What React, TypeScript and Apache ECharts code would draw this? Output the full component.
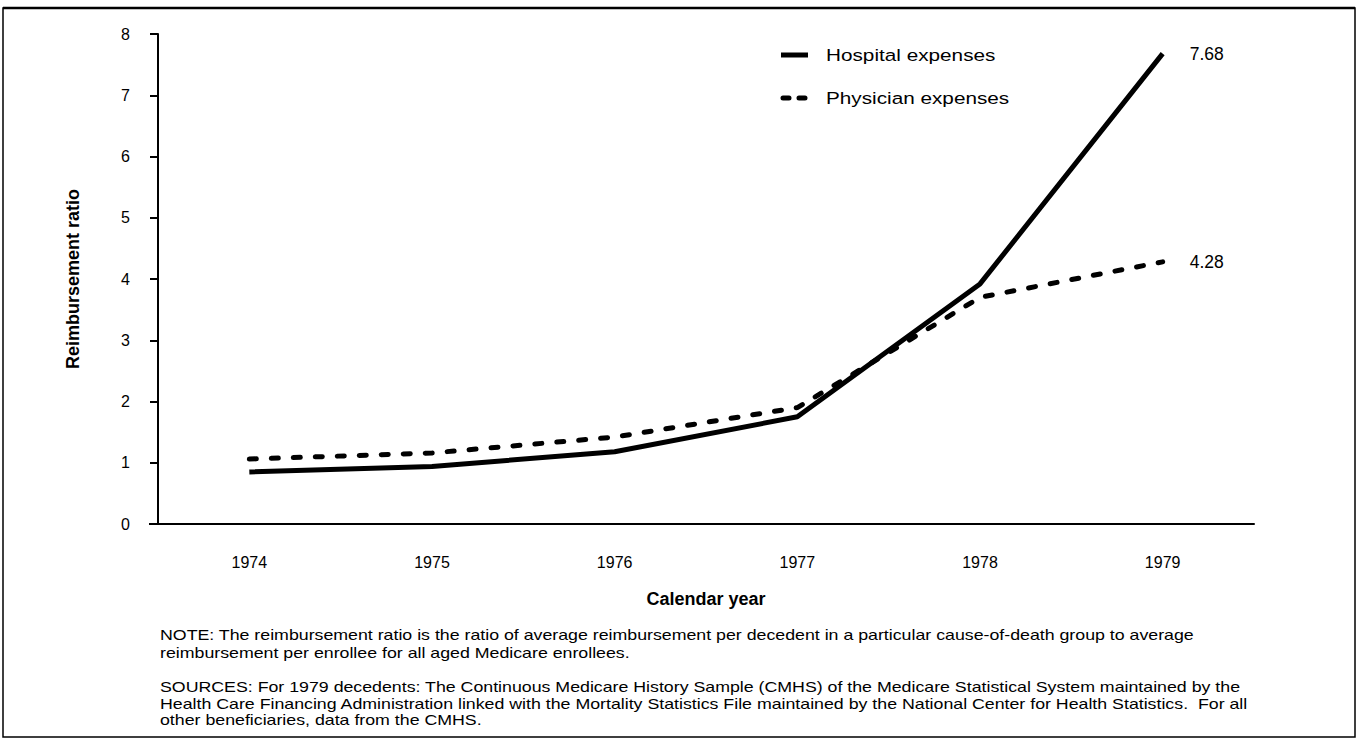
import React, { useEffect, useRef } from "react";
import * as echarts from "echarts";

const years = ["1974", "1975", "1976", "1977", "1978", "1979"];
const hospital = [0.85, 0.94, 1.18, 1.75, 3.92, 7.68];
const physician = [1.06, 1.16, 1.42, 1.9, 3.7, 4.28];
const yMin = 0;
const yMax = 8;
const yStep = 1;

const seriesNames = ["Hospital expenses", "Physician expenses"];
const xTitle = "Calendar year";
const yTitle = "Reimbursement ratio";
const noteLines = [
  "NOTE: The reimbursement ratio is the ratio of average reimbursement per decedent in a particular cause-of-death group to average",
  "reimbursement per enrollee for all aged Medicare enrollees.",
];
const sourceLines = [
  "SOURCES: For 1979 decedents: The Continuous Medicare History Sample (CMHS) of the Medicare Statistical System maintained by the",
  "Health Care Financing Administration linked with the Mortality Statistics File maintained by the National Center for Health Statistics.  For all",
  "other beneficiaries, data from the CMHS.",
];

const FONT = "'Liberation Sans', Arial, Helvetica, sans-serif";

export default function App() {
  const ref = useRef<HTMLDivElement>(null);
  useEffect(() => {
    if (!ref.current) return;
    const chart = echarts.init(ref.current, undefined, { renderer: "svg" });
    const textBase = { fontFamily: FONT, fill: "#000" };
    const noteGraphics: any[] = [];
    noteLines.forEach((t, i) => {
      noteGraphics.push({
        type: "text",
        x: 160,
        y: 635 + i * 18,
        scaleX: 1.225,
        style: { ...textBase, text: t, fontSize: 14.5, verticalAlign: "middle" },
      });
    });
    sourceLines.forEach((t, i) => {
      noteGraphics.push({
        type: "text",
        x: 160,
        y: 687 + i * 16.5,
        scaleX: 1.225,
        style: { ...textBase, text: t, fontSize: 14.5, verticalAlign: "middle" },
      });
    });
    const endLabel = {
      show: true,
      formatter: (p: any) => Number(p.value).toFixed(2),
      color: "#000",
      fontSize: 17.5,
      fontFamily: FONT,
      distance: 27,
    };
    chart.setOption({
      animation: false,
      backgroundColor: "#fff",
      grid: { left: 158, right: 104, top: 34, bottom: 229, containLabel: false },
      xAxis: {
        type: "category",
        data: years,
        boundaryGap: true,
        axisLine: { lineStyle: { color: "#000", width: 2 } },
        axisTick: { alignWithLabel: true, length: 7, lineStyle: { color: "#000", width: 2 } },
        axisLabel: { color: "#000", fontSize: 16, fontFamily: FONT, margin: 30 },
        name: xTitle,
        nameLocation: "middle",
        nameGap: 66,
        nameTextStyle: { color: "#000", fontSize: 18, fontWeight: "bold", fontFamily: FONT },
        splitLine: { show: false },
      },
      yAxis: {
        type: "value",
        min: yMin,
        max: yMax,
        interval: yStep,
        axisLine: { show: true, lineStyle: { color: "#000", width: 2 } },
        axisTick: { show: true, length: 8, lineStyle: { color: "#000", width: 2 } },
        axisLabel: { color: "#000", fontSize: 16, fontFamily: FONT, margin: 28 },
        splitLine: { show: false },
        name: yTitle,
        nameLocation: "middle",
        nameGap: 76,
        nameRotate: 90,
        nameTextStyle: { color: "#000", fontSize: 18, fontWeight: "bold", fontFamily: FONT },
      },
      series: [
        {
          name: seriesNames[0],
          type: "line",
          data: hospital,
          showSymbol: false,
          lineStyle: { color: "#000", width: 5 },
          endLabel,
        },
        {
          name: seriesNames[1],
          type: "line",
          data: physician,
          showSymbol: false,
          lineStyle: { color: "#000", width: 5, type: [7, 15], cap: "round" },
          endLabel,
        },
      ],
      graphic: [
        {
          type: "rect",
          shape: { x: 3, y: 8, width: 1352, height: 729 },
          style: { fill: "none", stroke: "#000", lineWidth: 1.5 },
          silent: true,
        },
        {
          type: "line",
          shape: { x1: 3, y1: 8, x2: 1355, y2: 8 },
          style: { stroke: "#000", lineWidth: 2.5 },
        },
        {
          type: "line",
          shape: { x1: 149, y1: 524, x2: 158, y2: 524 },
          style: { stroke: "#000", lineWidth: 2 },
        },
        {
          type: "line",
          shape: { x1: 781, y1: 55, x2: 808, y2: 55 },
          style: { stroke: "#000", lineWidth: 5 },
        },
        {
          type: "text",
          x: 826,
          y: 55,
          scaleX: 1.22,
          style: { ...textBase, text: seriesNames[0], fontSize: 17, verticalAlign: "middle" },
        },
        {
          type: "line",
          shape: { x1: 783, y1: 98, x2: 808, y2: 98 },
          style: { stroke: "#000", lineWidth: 5, lineDash: [6, 10], lineCap: "round" },
        },
        {
          type: "text",
          x: 826,
          y: 98,
          scaleX: 1.22,
          style: { ...textBase, text: seriesNames[1], fontSize: 17, verticalAlign: "middle" },
        },
        ...noteGraphics,
      ],
    });
    return () => chart.dispose();
  }, []);
  return (
    <div
      ref={ref}
      style={{ position: "fixed", left: 0, top: 0, width: 1358, height: 753, background: "#fff" }}
    />
  );
}
